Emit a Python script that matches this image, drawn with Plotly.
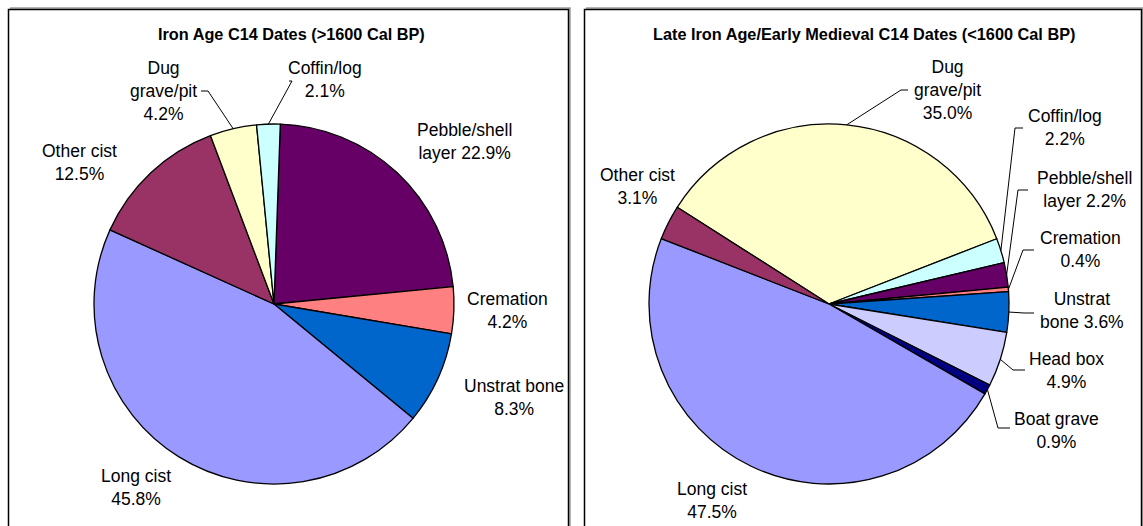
import math
import plotly.graph_objects as go

W, H = 1143, 526

# ---- data: share of C14 dates per burial type (percent) ----
ia_title = "Iron Age C14 Dates (&gt;1600 Cal BP)"
ia_types = ["Pebble/shell layer", "Cremation", "Unstrat bone", "Long cist",
            "Other cist", "Dug grave/pit", "Coffin/log"]
ia_pct = [22.9, 4.2, 8.3, 45.8, 12.5, 4.2, 2.1]
ia_names = ["Pebble/shell<br>layer ", "Cremation<br>", "Unstrat bone<br>",
            "Long cist<br>", "Other cist<br>", "Dug<br>grave/pit<br>", "Coffin/log<br>"]

lm_title = "Late Iron Age/Early Medieval C14 Dates (&lt;1600 Cal BP)"
lm_types = ["Dug grave/pit", "Coffin/log", "Pebble/shell layer", "Cremation",
            "Unstrat bone", "Head box", "Boat grave", "Long cist", "Other cist"]
lm_pct = [35.0, 2.2, 2.2, 0.4, 3.6, 4.9, 0.9, 47.5, 3.1]
lm_names = ["Dug<br>grave/pit<br>", "Coffin/log<br>", "Pebble/shell<br>layer ",
            "Cremation<br>", "Unstrat<br>bone ", "Head box<br>", "Boat grave<br>",
            "Long cist<br>", "Other cist<br>"]

# ---- styling ----
COLORS = {
    "Pebble/shell layer": "#660066",
    "Cremation": "#FF8080",
    "Unstrat bone": "#0066CC",
    "Long cist": "#9999FF",
    "Other cist": "#993366",
    "Dug grave/pit": "#FFFFCC",
    "Coffin/log": "#CCFFFF",
    "Head box": "#CCCCFF",
    "Boat grave": "#000080",
}
FONT = "Liberation Sans, Arial, sans-serif"

# pie geometry in pixels: centre x, centre y, radius, start angle (deg clockwise from 12)
ia_geom = dict(cx=274, cy=304, r=180, rot=2)
lm_geom = dict(cx=829, cy=304, r=180, rot=-57.5)

# label centres (px) and optional leader elbow / end points (px)
ia_label_pos = [(464, 141), (507, 310), (514, 397), (136, 487), (79, 163), (163, 91), (325, 80)]
ia_leaders = {5: [(208, 91), (201, 91)], 6: [(292, 81), (289, 81)]}

lm_label_pos = [(947, 90), (1065, 128), (1084, 189), (1080, 249), (1082, 310),
                (1066, 370), (1056, 430), (712, 500), (637, 186)]
lm_leaders = {0: [(901, 90), (908, 90)], 1: [(1015, 128), (1023, 128)],
              2: [(1018, 190), (1028, 190)], 3: [(1023, 250), (1034, 250)],
              4: [(1024, 313), (1034, 313)], 5: [(1013, 370), (1025, 370)],
              6: [(998, 428), (1010, 428)]}


def px(x):
    return x / W


def py(y):
    return 1 - y / H


def pie_trace(types, pct, g):
    return go.Pie(
        labels=types, values=pct, sort=False, direction="clockwise",
        rotation=g["rot"], textinfo="none", hoverinfo="label+percent",
        marker=dict(colors=[COLORS[t] for t in types], line=dict(color="black", width=1.3)),
        domain=dict(x=[px(g["cx"] - g["r"]), px(g["cx"] + g["r"])],
                    y=[py(g["cy"] + g["r"]), py(g["cy"] - g["r"])]),
        showlegend=False,
    )


def edge_points(pct, g):
    total = sum(pct)
    pts, cum = [], 0.0
    for v in pct:
        a = math.radians(g["rot"] + 360.0 * (cum + v / 2) / total)
        pts.append((g["cx"] + g["r"] * math.sin(a), g["cy"] - g["r"] * math.cos(a)))
        cum += v
    return pts


fig = go.Figure()
fig.add_trace(pie_trace(ia_types, ia_pct, ia_geom))
fig.add_trace(pie_trace(lm_types, lm_pct, lm_geom))

annotations, shapes = [], []

# panel frames
for x0, x1 in [(8.5, 568.5), (584.5, 1141.5)]:
    shapes.append(dict(type="path", xref="paper", yref="paper",
                       path=f"M {px(x0+1.5)} {py(8)} L {px(x1+1.5)} {py(8)} L {px(x1+1.5)} {py(540)}",
                       line=dict(color="#9a9a9a", width=1.5)))
    shapes.append(dict(type="rect", xref="paper", yref="paper",
                       x0=px(x0), x1=px(x1), y0=py(540), y1=py(9.5),
                       line=dict(color="black", width=1.5)))

# titles
for title, x in [(ia_title, 291), (lm_title, 864)]:
    annotations.append(dict(text=f"<b>{title}</b>", x=px(x), y=py(34), xref="paper", yref="paper",
                            xanchor="center", yanchor="middle", showarrow=False,
                            font=dict(family=FONT, size=16.3, color="black")))

# slice labels and leader lines
for pct, names, pos, leaders, g in [
    (ia_pct, ia_names, ia_label_pos, ia_leaders, ia_geom),
    (lm_pct, lm_names, lm_label_pos, lm_leaders, lm_geom),
]:
    edges = edge_points(pct, g)
    for i, v in enumerate(pct):
        annotations.append(dict(text=f"{names[i]}{v:.1f}%", x=px(pos[i][0]), y=py(pos[i][1]),
                                xref="paper", yref="paper", xanchor="center", yanchor="middle",
                                align="center", showarrow=False,
                                font=dict(family=FONT, size=17.5, color="black")))
        if i in leaders:
            pts = [edges[i]] + leaders[i]
            path = "M " + " L ".join(f"{px(x)} {py(y)}" for x, y in pts)
            shapes.append(dict(type="path", xref="paper", yref="paper", path=path,
                               line=dict(color="black", width=1)))

fig.update_layout(
    width=W, height=H, margin=dict(l=0, r=0, t=0, b=0),
    paper_bgcolor="white", plot_bgcolor="white",
    annotations=annotations, shapes=shapes,
)

fig.write_html("out.html")
